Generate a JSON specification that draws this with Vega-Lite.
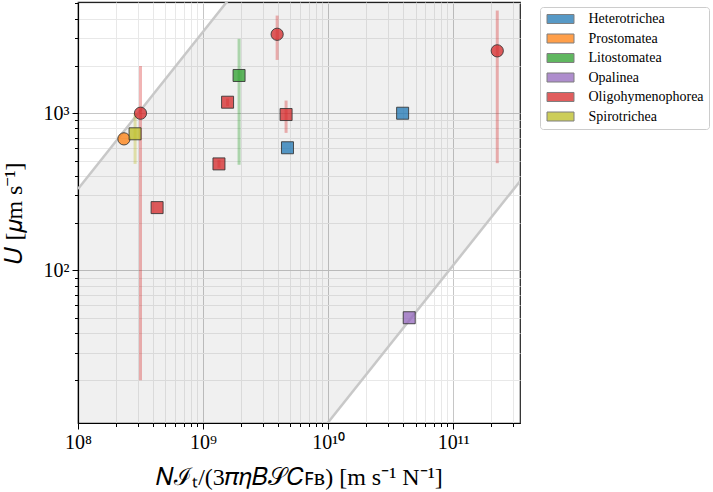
{
  "$schema": "https://vega.github.io/schema/vega-lite/v6.json",
  "width": 442,
  "height": 421,
  "autosize": {"type": "none"},
  "padding": {"left": 78, "top": 2, "right": 193, "bottom": 69},
  "background": "white",
  "config": {
    "view": {"stroke": "#222222", "strokeWidth": 1.2},
    "font": "Liberation Serif"
  },
  "datasets": {
    "band": [
      {"bx": 100000000, "lo": 0.108, "hi": 330},
      {"bx": 342000000000, "lo": 369, "hi": 1128600}
    ],
    "pts": [
      {"cls": "Oligohymenophorea", "marker": "circle", "X": 316000000, "U": 1000, "lo": 20, "hi": 2000},
      {"cls": "Prostomatea", "marker": "circle", "X": 233000000, "U": 687},
      {"cls": "Spirotrichea", "marker": "square", "X": 286000000, "U": 740, "lo": 476, "hi": 1000},
      {"cls": "Litostomatea", "marker": "square", "X": 1940000000, "U": 1738, "lo": 470, "hi": 2973},
      {"cls": "Oligohymenophorea", "marker": "square", "X": 1570000000, "U": 1175, "lo": 1110, "hi": 1240},
      {"cls": "Oligohymenophorea", "marker": "square", "X": 1340000000, "U": 476, "lo": 450, "hi": 505},
      {"cls": "Oligohymenophorea", "marker": "square", "X": 429000000, "U": 251},
      {"cls": "Oligohymenophorea", "marker": "circle", "X": 3910000000, "U": 3178, "lo": 2183, "hi": 4180},
      {"cls": "Oligohymenophorea", "marker": "square", "X": 4610000000, "U": 981, "lo": 750, "hi": 1204},
      {"cls": "Heterotrichea", "marker": "square", "X": 4730000000, "U": 603},
      {"cls": "Heterotrichea", "marker": "square", "X": 39400000000, "U": 1000},
      {"cls": "Oligohymenophorea", "marker": "circle", "X": 225000000000, "U": 2494, "lo": 481, "hi": 4500},
      {"cls": "Opalinea", "marker": "square", "X": 44500000000, "U": 50}
    ]
  },
  "layer": [
    {
      "data": {"name": "band"},
      "mark": {"type": "area", "clip": true, "color": "#000000", "opacity": 0.06},
      "encoding": {
        "x": {
          "field": "bx", "type": "quantitative",
          "scale": {"type": "log", "domain": [100000000, 342000000000], "nice": false},
          "axis": {
            "title": "𝑁ℐₜ/(3𝜋𝜂𝐵𝒮𝐶ꜰʙ) [m s⁻¹ N⁻¹]",
            "titleFont": "Liberation Serif", "titleFontSize": 24, "titleFontWeight": "normal", "titleColor": "black", "titlePadding": 13,
            "values": [100000000, 200000000, 300000000, 400000000, 500000000, 600000000, 700000000, 800000000, 900000000,
                       1000000000, 2000000000, 3000000000, 4000000000, 5000000000, 6000000000, 7000000000, 8000000000, 9000000000,
                       10000000000, 20000000000, 30000000000, 40000000000, 50000000000, 60000000000, 70000000000, 80000000000, 90000000000,
                       100000000000, 200000000000, 300000000000],
            "labelExpr": "datum.value == 1e8 ? '10⁸' : datum.value == 1e9 ? '10⁹' : datum.value == 1e10 ? '10¹⁰' : datum.value == 1e11 ? '10¹¹' : ''",
            "labelFont": "Liberation Serif", "labelFontSize": 20, "labelColor": "black", "labelFlush": false, "labelOverlap": false, "labelPadding": 3,
            "domainColor": "black", "domainWidth": 1.2,
            "tickColor": "black",
            "tickSize": {"condition": {"test": "indexof([1e8,1e9,1e10,1e11], datum.value) >= 0", "value": 6}, "value": 3.5},
            "grid": true,
            "gridColor": {"condition": {"test": "indexof([1e8,1e9,1e10,1e11], datum.value) >= 0", "value": "#c6c6c6"}, "value": "#e8e8e8"}
          }
        },
        "y": {
          "field": "lo", "type": "quantitative",
          "scale": {"type": "log", "domain": [10.7, 5100], "nice": false},
          "axis": {
            "title": "𝑈 [𝜇m s⁻¹]",
            "titleFont": "Liberation Serif", "titleFontSize": 24, "titleFontWeight": "normal", "titleColor": "black", "titlePadding": 17,
            "values": [20, 30, 40, 50, 60, 70, 80, 90, 100, 200, 300, 400, 500, 600, 700, 800, 900, 1000, 2000, 3000, 4000, 5000],
            "labelExpr": "datum.value == 100 ? '10²' : datum.value == 1000 ? '10³' : ''",
            "labelFont": "Liberation Serif", "labelFontSize": 20, "labelColor": "black", "labelFlush": false, "labelOverlap": false, "labelPadding": 3,
            "domainColor": "black", "domainWidth": 1.2,
            "tickColor": "black",
            "tickSize": {"condition": {"test": "indexof([100,1000], datum.value) >= 0", "value": 6}, "value": 3.5},
            "grid": true,
            "gridColor": {"condition": {"test": "indexof([100,1000], datum.value) >= 0", "value": "#c6c6c6"}, "value": "#e8e8e8"}
          }
        },
        "y2": {"field": "hi"}
      }
    },
    {
      "data": {"name": "band"},
      "mark": {"type": "line", "clip": true, "color": "#c8c8c8", "strokeWidth": 2.5},
      "encoding": {
        "x": {"field": "bx", "type": "quantitative"},
        "y": {"field": "lo", "type": "quantitative"}
      }
    },
    {
      "data": {"name": "band"},
      "mark": {"type": "line", "clip": true, "color": "#c8c8c8", "strokeWidth": 2.5},
      "encoding": {
        "x": {"field": "bx", "type": "quantitative"},
        "y": {"field": "hi", "type": "quantitative"}
      }
    },
    {
      "data": {"name": "pts"},
      "mark": {"type": "rule", "clip": true, "strokeWidth": 3, "opacity": 0.35},
      "encoding": {
        "x": {"field": "X", "type": "quantitative"},
        "y": {"field": "lo", "type": "quantitative"},
        "y2": {"field": "hi"},
        "color": {
          "condition": [
            {"test": "datum.cls === 'Heterotrichea'", "value": "#1f77b4"},
            {"test": "datum.cls === 'Prostomatea'", "value": "#ff7f0e"},
            {"test": "datum.cls === 'Litostomatea'", "value": "#2ca02c"},
            {"test": "datum.cls === 'Opalinea'", "value": "#9467bd"},
            {"test": "datum.cls === 'Spirotrichea'", "value": "#bcbd22"}
          ],
          "value": "#d62728"
        }
      }
    },
    {
      "data": {"name": "pts"},
      "mark": {"type": "point", "filled": true, "fillOpacity": 0.75, "stroke": "#333333", "strokeWidth": 1, "strokeOpacity": 0.85},
      "encoding": {
        "x": {"field": "X", "type": "quantitative"},
        "y": {"field": "U", "type": "quantitative"},
        "shape": {"field": "marker", "type": "nominal", "scale": {"domain": ["circle", "square"], "range": ["circle", "square"]}, "legend": null},
        "size": {"field": "marker", "type": "nominal", "scale": {"domain": ["circle", "square"], "range": [150, 144]}, "legend": null},
        "color": {
          "field": "cls", "type": "nominal",
          "scale": {
            "domain": ["Heterotrichea", "Prostomatea", "Litostomatea", "Opalinea", "Oligohymenophorea", "Spirotrichea"],
            "range": ["#1f77b4", "#ff7f0e", "#2ca02c", "#9467bd", "#d62728", "#bcbd22"]
          },
          "legend": {
            "title": null,
            "orient": "none", "legendX": 462, "legendY": 5,
            "symbolType": "M-2.7,-0.9H2.7V0.9H-2.7Z", "symbolSize": 100,
            "symbolOffset": 8.5,
            "symbolStrokeColor": "#555555", "symbolStrokeWidth": 1, "symbolOpacity": 0.75,
            "labelFont": "Liberation Serif", "labelFontSize": 14, "labelColor": "black", "labelOffset": 21,
            "strokeColor": "#cccccc", "fillColor": "white", "cornerRadius": 3, "padding": 5, "rowPadding": 5.5
          }
        }
      }
    }
  ]
}
